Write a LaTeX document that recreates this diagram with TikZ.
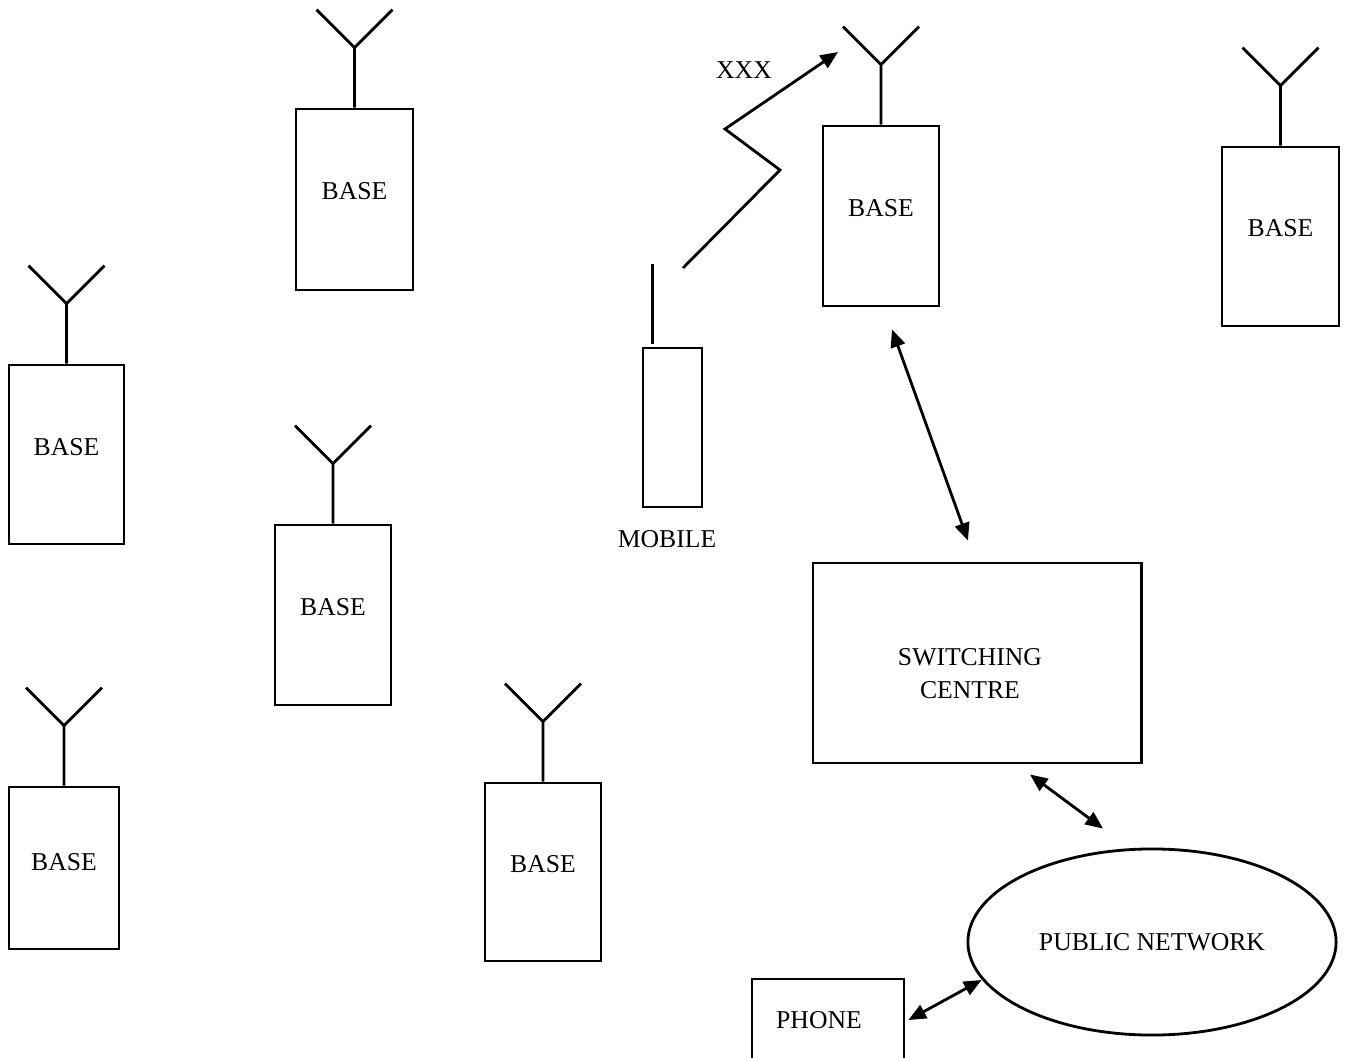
\documentclass[tikz,border=0pt]{standalone}
\usepackage{fontspec}
\setmainfont{Liberation Serif}
\usetikzlibrary{shapes.geometric,arrows.meta}

\tikzset{
  basebox/.style={draw, line width=0.8pt, inner sep=0pt, text depth=0.16cm, minimum width=1.16cm, minimum height=1.8cm},
  aerial/.style={line width=0.8pt},
  link/.style={line width=0.8pt, {Triangle[length=5pt,width=4.2pt]}-{Triangle[length=5pt,width=4.2pt]}},
  radio/.style={line width=0.8pt, -{Triangle[length=5pt,width=4.2pt]}},
}

\begin{document}
\begin{tikzpicture}[x=0.01cm, y=-0.01cm, font=\fontsize{7.3}{9.4}\selectfont]
  \useasboundingbox (0,0) rectangle (1357,1057);
  \clip (0,0) rectangle (1357,1057);

   % base stations
   \draw (354.5,199.5) node[basebox, minimum width=1.17cm, minimum height=1.81cm] (b1) {BASE};
   \draw (66.5,454.5) node[basebox, minimum width=1.15cm, minimum height=1.79cm] (b2) {BASE};
   \draw (333,615) node[basebox] (b3) {BASE};
   \draw (64,868) node[basebox, minimum width=1.1cm, minimum height=1.62cm, text depth=0.12cm] (b4) {BASE};
   \draw (543,872) node[basebox, minimum height=1.78cm] (b5) {BASE};
   \draw (881,216) node[basebox] (b6) {BASE};
   \draw (1280.5,236.5) node[basebox, minimum width=1.17cm, minimum height=1.79cm] (b7) {BASE};

   \foreach \b in {b1,b2,b3,b4,b5,b6,b7}
     \draw[aerial] (\b.north) -- ++(0,-60) coordinate (\b v) -- ++(-38,-38)
                   (\b v) -- ++(38,-38);

   % mobile
   \draw (672.5,427.5) node[basebox, minimum width=0.59cm, minimum height=1.59cm] (mob) {};
   \draw[aerial] (mob.north west) ++(11,-3) -- ++(0,-80);
   \draw (667,539) node (mobl) {MOBILE};

   \draw (683,268) coordinate (zs);
   \draw (838,52) coordinate (ze);
   \draw[radio] (zs) -- (780,170) -- (725,129) -- (ze);
   \draw (744,70) node (xxx) {XXX};

   % switching and network
   \draw (977,663) node[draw, line width=0.8pt, minimum width=3.28cm, minimum height=2cm] (sw) {};
   \draw (970,674) node[align=center] (swt) {SWITCHING\\CENTRE};
   \draw (1152,942) node[draw, ellipse, line width=0.8pt, inner sep=0pt, minimum width=3.68cm, minimum height=1.86cm] (net) {PUBLIC NETWORK};
   \draw (828,1022) node[draw, line width=0.8pt, minimum width=1.52cm, minimum height=0.86cm] (phone) {};
   \draw (819,1020) node (phonet) {PHONE};

    \path[link] ([shift={(11,22)}]b6.south) edge ([shift={(-9,-21)}]sw.north);
    \path[link] ([shift={(53,10)}]sw.south) edge ([shift={(-49,-19)}]net.north);
    \path[link] ([shift={(3,-2)}]phone.east) edge ([shift={(15,38)}]net.west);

\end{tikzpicture}
\end{document}
